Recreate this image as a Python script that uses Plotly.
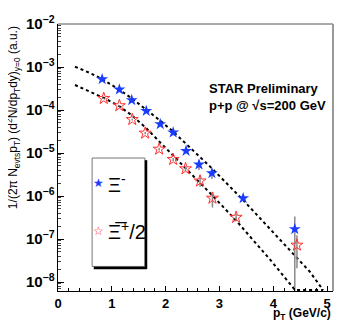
import plotly.graph_objects as go

# ── Data ─────────────────────────────────────────────────────────────────────
xi_pt = [0.82, 1.14, 1.37, 1.64, 1.90, 2.14, 2.38, 2.62, 2.86, 3.44, 4.40]
xi_val = [5.2e-4, 3.0e-4, 1.7e-4, 9.5e-5, 4.7e-5, 3.0e-5, 1.12e-5, 5.4e-6, 3.4e-6, 8.9e-7, 1.7e-7]
xi_err = [1.5e-5, 1.0e-5, 6e-6, 4e-6, 2.5e-6, 2e-6, 1e-6, 1.4e-6, 9e-7, 1.2e-7, 1.65e-7]

axi_pt = [0.85, 1.14, 1.38, 1.62, 1.88, 2.14, 2.37, 2.64, 2.87, 3.31, 4.44]
axi_val = [1.86e-4, 1.26e-4, 6.0e-5, 2.9e-5, 1.23e-5, 7.1e-6, 4.3e-6, 2.24e-6, 8.9e-7, 3.2e-7, 7.2e-8]
axi_err = [6e-6, 5e-6, 3e-6, 1.8e-6, 9e-7, 6e-7, 5e-7, 6e-7, 3.5e-7, 6e-8, 5.1e-8]

# fit curves (dotted)
fit1_pt = [0.316, 0.595, 0.818, 1.134, 1.375, 1.636, 1.896, 2.138, 2.379, 2.621,
           2.862, 3.439, 3.717, 4.312, 4.684, 4.926]
fit1_val = [1.016e-3, 7.24e-4, 5.26e-4, 3.0e-4, 1.85e-4, 1.05e-4, 5.7e-5, 3.16e-5,
            1.66e-5, 8.75e-6, 4.37e-6, 8.07e-7, 3.43e-7, 5.41e-8, 1.71e-8, 6.5e-9]
fit2_pt = [0.316, 0.595, 0.855, 1.134, 1.375, 1.617, 1.877, 2.138, 2.361, 2.639,
           2.862, 3.309, 3.569, 3.941, 4.405, 4.926]
fit2_val = [3.81e-4, 2.67e-4, 1.90e-4, 1.24e-4, 7.45e-5, 4.03e-5, 1.90e-5, 8.98e-6,
            4.72e-6, 2.06e-6, 1.05e-6, 2.69e-7, 1.14e-7, 3.33e-8, 6.5e-9, 6.5e-9]

FONT = 'Liberation Sans'

fig = go.Figure()

for px, py in [(fit1_pt, fit1_val), (fit2_pt, fit2_val)]:
    fig.add_trace(go.Scatter(
        x=px, y=py, mode='lines',
        line=dict(color='black', width=2, dash='dot'),
        showlegend=False, hoverinfo='skip',
    ))

fig.add_trace(go.Scatter(
    x=xi_pt, y=xi_val, mode='markers',
    error_y=dict(type='data', array=xi_err, color='#8a8a8a', thickness=1.5, width=0),
    marker=dict(symbol='star', size=9, color='#1a3cff', line=dict(width=0)),
    showlegend=False,
))
fig.add_trace(go.Scatter(
    x=axi_pt, y=axi_val, mode='markers',
    error_y=dict(type='data', array=axi_err, color='#8a8a8a', thickness=1.5, width=0),
    marker=dict(symbol='star-open', size=9, color='#ff3030', line=dict(width=1)),
    showlegend=False,
))

# ── Legend box (drawn by hand, ROOT style with shadow) ─────────────────────
shapes = [
    dict(type='rect', xref='paper', yref='paper', x0=0.124, x1=0.316, y0=0.092, y1=0.498,
         line=dict(color='#777777', width=1), fillcolor='white', layer='below'),
    dict(type='line', xref='paper', yref='paper', x0=0.320, x1=0.320, y0=0.082, y1=0.490,
         line=dict(color='black', width=2.5)),
    dict(type='line', xref='paper', yref='paper', x0=0.130, x1=0.320, y0=0.086, y1=0.086,
         line=dict(color='black', width=2.5)),
    # frame top / right
    dict(type='line', xref='paper', yref='paper', x0=0, x1=1, y0=1, y1=1,
         line=dict(color='#555555', width=1)),
    dict(type='line', xref='paper', yref='paper', x0=1, x1=1, y0=0, y1=1,
         line=dict(color='#999999', width=2)),
]

annotations = [
    dict(text='1/(2π N<sub>evts</sub>p<sub>T</sub>) (d<sup>2</sup>N/dp<sub>T</sub>dy)<sub>y=0</sub> (a.u.)',
         xref='paper', yref='paper', x=-0.165, y=1.0, xanchor='center', yanchor='top',
         textangle=-90, showarrow=False, font=dict(family=FONT, size=12, color='black')),
    dict(text='<b>p<sub>T</sub> (GeV/c)</b>', xref='paper', yref='paper', x=1.0, y=-0.085,
         xanchor='right', yanchor='middle', showarrow=False,
         font=dict(family=FONT, size=12, color='black')),
    dict(text='<b>STAR Preliminary</b>', xref='paper', yref='paper', x=0.542, y=0.760,
         xanchor='left', yanchor='middle', showarrow=False,
         font=dict(family=FONT, size=13, color='black')),
    dict(text='<b>p+p @ √s=200 GeV</b>', xref='paper', yref='paper', x=0.542, y=0.693,
         xanchor='left', yanchor='middle', showarrow=False,
         font=dict(family=FONT, size=13, color='black')),
    # legend entries
    dict(text='★', xref='paper', yref='paper', x=0.149, y=0.404, xanchor='center',
         yanchor='middle', showarrow=False, font=dict(family='DejaVu Sans', size=12, color='#1a3cff')),
    dict(text='Ξ<sup>-</sup>', xref='paper', yref='paper', x=0.176, y=0.404, xanchor='left',
         yanchor='middle', showarrow=False, font=dict(family=FONT, size=20, color='black')),
    dict(text='☆', xref='paper', yref='paper', x=0.149, y=0.225, xanchor='center',
         yanchor='middle', showarrow=False, font=dict(family='DejaVu Sans', size=12, color='#ff3030')),
    dict(text='Ξ\u0305<sup>+</sup>/2', xref='paper', yref='paper', x=0.176, y=0.225, xanchor='left',
         yanchor='middle', showarrow=False, font=dict(family=FONT, size=20, color='black')),
]

# the page body adds 8 px on the top and left, so margins are reduced by 8
fig.update_layout(
    width=354, height=321,
    margin=dict(l=50, r=29, t=16, b=38),
    paper_bgcolor='white', plot_bgcolor='white',
    showlegend=False,
    shapes=shapes,
    annotations=annotations,
    xaxis=dict(
        range=[0, 5.11], dtick=1, tick0=0,
        ticks='inside', ticklen=5, tickcolor='black',
        showline=True, linecolor='black', linewidth=1,
        showgrid=False, zeroline=False, automargin=False,
        tickfont=dict(family=FONT, size=13, color='black', weight='bold'),
        minor=dict(dtick=0.2, ticks='inside', ticklen=3, tickcolor='black', showgrid=False),
    ),
    yaxis=dict(
        type='log', range=[-8.209, -2], dtick=1,
        exponentformat='power', showexponent='all',
        ticks='inside', ticklen=6, tickcolor='black',
        showline=True, linecolor='black', linewidth=1,
        showgrid=False, zeroline=False, automargin=False,
        tickfont=dict(family=FONT, size=12, color='black', weight='bold'),
        minor=dict(dtick='D1', ticks='inside', ticklen=3, tickcolor='#444444', showgrid=False),
    ),
)

fig.write_html("out.html")
